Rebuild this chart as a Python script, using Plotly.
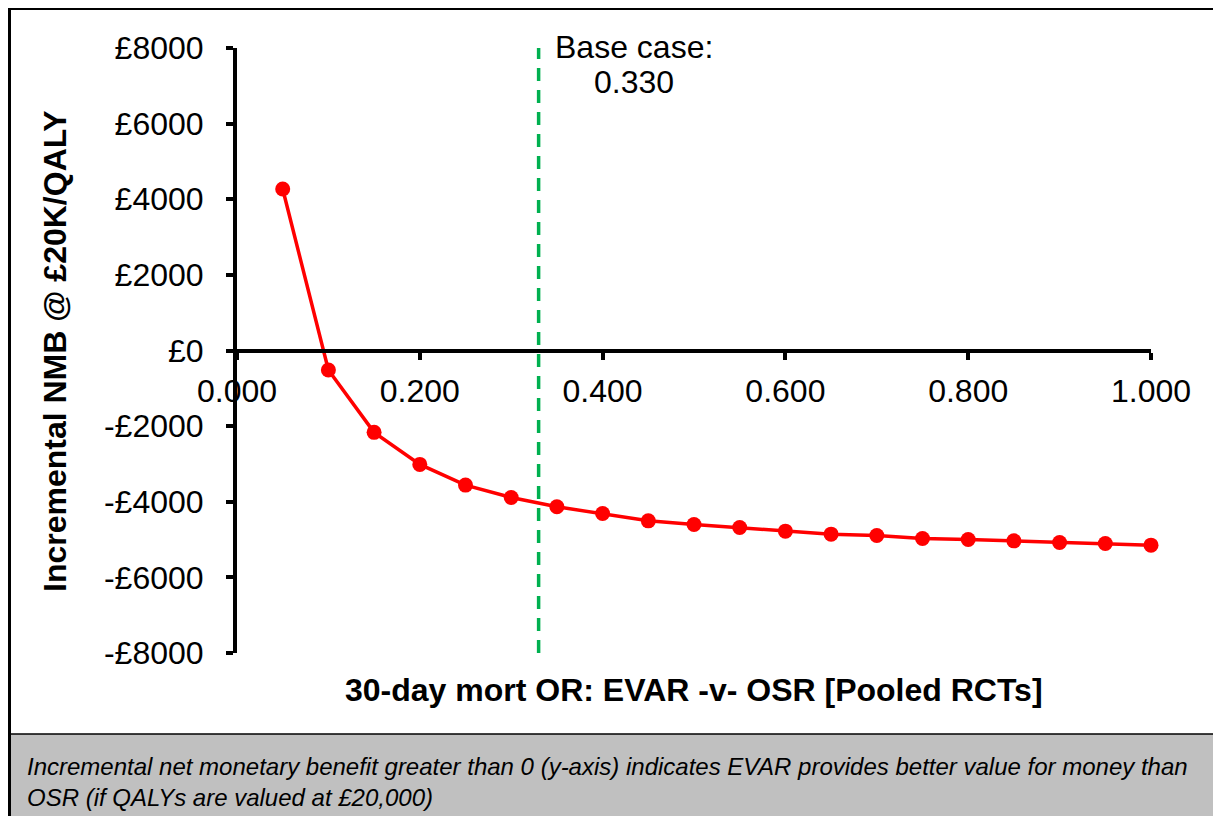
import plotly.graph_objects as go

# ---- data ----
odds_ratio = [0.05, 0.10, 0.15, 0.20, 0.25, 0.30, 0.35, 0.40, 0.45, 0.50,
              0.55, 0.60, 0.65, 0.70, 0.75, 0.80, 0.85, 0.90, 0.95, 1.00]
inc_nmb = [4270, -516, -2165, -3012, -3560, -3886, -4134, -4309, -4505, -4600,
           -4680, -4778, -4857, -4892, -4971, -4997, -5034, -5077, -5103, -5148]
base_case = 0.330
x_tick_vals = [0.0, 0.2, 0.4, 0.6, 0.8, 1.0]
y_tick_vals = [-8000, -6000, -4000, -2000, 0, 2000, 4000, 6000, 8000]
y_tick_text = ["-£8000", "-£6000", "-£4000", "-£2000", "£0", "£2000", "£4000", "£6000", "£8000"]

# ---- layout geometry (figure pixels) ----
W, H = 1221, 816
L, R, T, B = 229, 78, 40, 171
PW, PH = W - L - R, H - T - B

def px(x):
    return (x - L) / PW

def py(y):
    return (H - B - y) / PH

FONT = "Liberation Sans, Arial, sans-serif"

fig = go.Figure()
fig.add_trace(go.Scatter(
    x=odds_ratio, y=inc_nmb, mode="lines+markers",
    line=dict(color="#FF0000", width=3.5),
    marker=dict(color="#FF0000", size=15),
    showlegend=False, cliponaxis=False,
))

shapes = [
    # gray caption band
    dict(type="rect", xref="paper", yref="paper", x0=px(1.5), x1=px(1208), y0=py(726), y1=py(820),
         fillcolor="#C0C0C0", line=dict(width=0), layer="below"),
    dict(type="line", xref="paper", yref="paper", x0=px(1.5), x1=px(1208), y0=py(726), y1=py(726),
         line=dict(color="black", width=1.5)),
    # outer border
    dict(type="rect", xref="paper", yref="paper", x0=px(1.5), x1=px(1208), y0=py(0.5), y1=py(820),
         line=dict(color="black", width=3)),
    # base-case line
    dict(type="line", xref="x", yref="y", x0=base_case, x1=base_case, y0=-8000, y1=8100,
         line=dict(color="#00B050", width=3.5, dash="13px,9px")),
]

annotations = [
    dict(text="Base case:", x=px(626), y=py(39), xref="paper", yref="paper",
         xanchor="center", yanchor="middle", showarrow=False,
         font=dict(family=FONT, size=32, color="black")),
    dict(text=f"{base_case:.3f}", x=px(626), y=py(74), xref="paper", yref="paper",
         xanchor="center", yanchor="middle", showarrow=False,
         font=dict(family=FONT, size=32, color="black")),
    dict(text="<b>30-day mort OR: EVAR -v- OSR [Pooled RCTs]</b>", x=px(686), y=py(682),
         xref="paper", yref="paper", xanchor="center", yanchor="middle", showarrow=False,
         font=dict(family=FONT, size=32, color="black")),
    dict(text="<b>Incremental NMB @ £20K/QALY</b>", x=px(47), y=py(343),
         xref="paper", yref="paper", xanchor="center", yanchor="middle", showarrow=False,
         textangle=-90, font=dict(family=FONT, size=32, color="black")),
    dict(text="<i>Incremental net monetary benefit greater than 0 (y-axis) indicates EVAR provides better value for money than<br>OSR (if QALYs are valued at £20,000)</i>",
         x=px(17), y=py(773.5), xref="paper", yref="paper", xanchor="left", yanchor="middle",
         showarrow=False, align="left",
         font=dict(family=FONT, size=24, color="black")),
]

fig.update_layout(
    width=W, height=H,
    margin=dict(l=L, r=R, t=T, b=B, pad=0),
    paper_bgcolor="white", plot_bgcolor="white",
    font=dict(family=FONT, color="black"),
    shapes=shapes, annotations=annotations,
    xaxis=dict(
        range=[0, 1], anchor="free", position=0.5,
        tickvals=x_tick_vals, tickformat=".3f",
        ticks="outside", ticklen=7, tickwidth=3.5, tickcolor="black",
        showline=True, linecolor="black", linewidth=4,
        showgrid=False, zeroline=False,
        tickfont=dict(family=FONT, size=32, color="black"),
        ticklabelstandoff=4,
    ),
    yaxis=dict(
        range=[-8000, 8000], domain=[0, 1],
        tickvals=y_tick_vals, ticktext=y_tick_text,
        ticks="outside", ticklen=7, tickwidth=3.5, tickcolor="black",
        showline=True, linecolor="black", linewidth=4,
        showgrid=False, zeroline=False,
        tickfont=dict(family=FONT, size=32, color="black"),
        ticklabelstandoff=16,
    ),
)

fig.write_html("out.html")
